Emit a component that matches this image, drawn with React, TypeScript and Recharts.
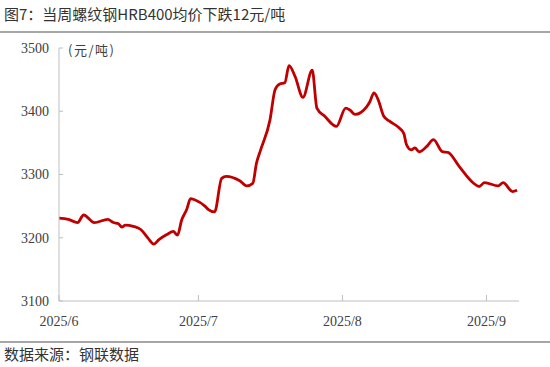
import React from "react";
import { LineChart, Line, XAxis, YAxis } from "recharts";

// days since 2025-06-01
const dayOffsets = [
  0, 2, 4, 5.3, 7.6, 10.5, 11.7, 12.8, 13.5, 14.3, 16, 17.6, 19.2, 20.4, 21.5,
  23.2, 24.6, 25.5, 26.4, 27.5, 28.3, 29.2, 31.4, 32.1, 33.5, 35, 36, 38.9,
  40.4, 41.7, 42.5, 43.4, 45.4, 46.5, 47.5, 48.6, 49.5, 50.8, 52.5, 54.5, 55.5,
  57.2, 59.7, 61.7, 62.6, 63.7, 66.2, 66.9, 67.8, 68.7, 69.9, 71.2, 73.3, 74.2,
  74.8, 75.8, 76.6, 77.5, 79.1, 80.6, 82.5, 83.7, 86.2, 89.1, 90.4, 91.6, 94.5,
  95.6, 97.6, 98.6,
];
const prices = [
  3231, 3229, 3224, 3236, 3224, 3229, 3224, 3222, 3217, 3220, 3218, 3213, 3199,
  3190, 3197, 3205, 3210, 3204, 3228, 3245, 3262, 3260, 3250, 3245, 3241, 3294,
  3297, 3290, 3282, 3286, 3318, 3339, 3386, 3434, 3443, 3445, 3472, 3455, 3422,
  3465, 3405, 3392, 3376, 3405, 3402, 3395, 3407, 3415, 3429, 3418, 3392, 3384,
  3373, 3365, 3347, 3339, 3342, 3336, 3344, 3355, 3336, 3335, 3312, 3287, 3281,
  3287, 3282, 3287, 3273, 3275,
];
const xTickPositions = [0, 30, 61, 92];
const xTickLabels = ["2025/6", "2025/7", "2025/8", "2025/9"];
const yTicks = [3100, 3200, 3300, 3400, 3500];

const titleText = "图7：当周螺纹钢HRB400均价下跌12元/吨";
const sourceText = "数据来源：钢联数据";
const unitText = "(元/吨)";

const data = dayOffsets.map((d, i) => ({ day: d, price: prices[i] }));

const cjk = '"Noto Sans CJK SC", "Noto Sans", sans-serif';
const serif = '"Liberation Serif", "Times New Roman", serif';

export default function App() {
  return (
    <div
      style={{
        position: "absolute",
        left: 0,
        top: 0,
        width: 550,
        height: 367,
        background: "#fff",
        overflow: "hidden",
      }}
    >
      <div
        style={{
          position: "absolute",
          left: 4,
          top: 4,
          fontFamily: cjk,
          fontSize: 15,
          color: "#333",
          whiteSpace: "nowrap",
          lineHeight: "20px",
        }}
      >
        {titleText}
      </div>
      <div
        style={{
          position: "absolute",
          left: 0,
          top: 31,
          width: 550,
          height: 1.5,
          background: "#a6a6a6",
        }}
      />
      <div
        style={{
          position: "absolute",
          left: 0,
          top: 341,
          width: 550,
          height: 1.5,
          background: "#a6a6a6",
        }}
      />
      <div
        style={{
          position: "absolute",
          left: 4,
          top: 344,
          fontFamily: cjk,
          fontSize: 15,
          color: "#333",
          whiteSpace: "nowrap",
          lineHeight: "20px",
        }}
      >
        {sourceText}
      </div>
      <div
        style={{
          position: "absolute",
          left: 68,
          top: 41,
          fontFamily: cjk,
          fontSize: 13,
          letterSpacing: 1.5,
          color: "#404040",
          whiteSpace: "nowrap",
          lineHeight: "18px",
        }}
      >
        {unitText}
      </div>
      <div style={{ position: "absolute", left: 0, top: 0 }}>
        <LineChart
          width={550}
          height={367}
          data={data}
          margin={{ top: 48, right: 31, bottom: 36, left: 0 }}
        >
          <XAxis
            dataKey="day"
            type="number"
            domain={[0, 99]}
            ticks={xTickPositions}
            tickFormatter={(v: number) =>
              xTickLabels[xTickPositions.indexOf(v)] ?? ""
            }
            height={30}
            interval={0}
            allowDataOverflow
            stroke="#bfbfbf"
            tickSize={-6}
            tickMargin={21}
            tick={{ fill: "#404040", fontSize: 14, fontFamily: serif }}
          />
          <YAxis
            type="number"
            domain={[3100, 3500]}
            ticks={yTicks}
            width={59}
            interval={0}
            stroke="#bfbfbf"
            tickSize={-4}
            tickMargin={14}
            tick={{ fill: "#404040", fontSize: 14, fontFamily: serif }}
          />
          <Line
            type="monotone"
            dataKey="price"
            stroke="#c00000"
            strokeWidth={2.8}
            dot={false}
            isAnimationActive={false}
          />
        </LineChart>
      </div>
    </div>
  );
}
